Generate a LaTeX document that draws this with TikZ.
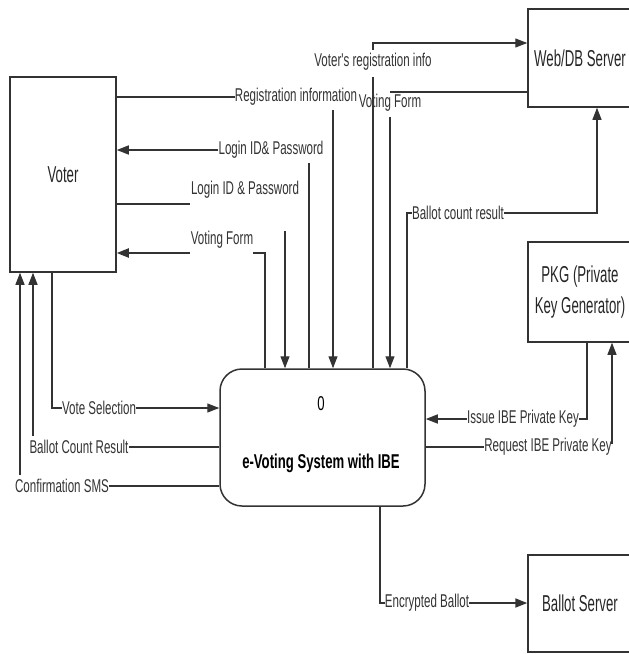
\documentclass[tikz,border=0pt]{standalone}
\usepackage{fontspec}
\setmainfont{Liberation Sans}
\newfontfamily\labfont{Liberation Sans}[FakeStretch=0.625]
\newfontfamily\boxfont{Liberation Sans}[FakeStretch=0.575]
\newfontfamily\procfont{Liberation Sans}[FakeStretch=0.657]
\usetikzlibrary{arrows.meta,calc}
\begin{document}
\begin{tikzpicture}[x=1pt,y=-1pt,
  conn/.style={draw=black!80, line width=1.2pt},
  arr/.style={conn, -{Triangle[length=12pt,width=9pt]}},
  entity/.style={draw=black!80, line width=1.5pt, inner sep=0pt,
    font=\boxfont\fontsize{23}{31}\selectfont, text=black!85, align=center},
  process/.style={draw=black!80, line width=1.5pt, rounded corners=22pt, inner sep=0pt},
  lab/.style={inner sep=0pt, font=\labfont\fontsize{18.5}{21}\selectfont, text=black!80},
  ptext/.style={inner sep=0pt, font=\procfont\fontsize{20}{24}\selectfont, text=black},
]
\clip (0,0) rectangle (629,654);

% entities
\node[entity, minimum width=106pt, minimum height=195pt] (voter) at (63,174.5) {Voter};
\node[entity, minimum width=104pt, minimum height=98pt] (webdb) at (580,58) {Web/DB Server};
\node[entity, minimum width=104pt, minimum height=100pt] (pkg) at (580,292) {PKG (Private\\Key Generator)};
\node[entity, minimum width=104pt, minimum height=97pt] (ballot) at (580,603.5) {Ballot Server};

% process
\node[process, minimum width=205pt, minimum height=137pt] (proc) at (322.5,437.5) {};
\node[ptext] (pnum) at (321,404) {0};
\node[ptext] (ptitle) at (321,463) {\bfseries e-Voting System with IBE};

% 1 Registration information
\node[lab] (l1) at (296,97) {Registration information};
\draw[conn] (voter.east |- l1) -- (l1.west);
\draw[arr] (333,110) -- (333,0 |- proc.north);

% 2 Login ID& Password (process -> voter)
\node[lab] (l2) at (271,150) {Login ID\& Password};
\draw[arr, line width=1.6pt] (l2.west) -- (voter.east |- l2);
\draw[conn] (309,0 |- proc.north) -- (309,163);

% 3 Login ID & Password (voter -> process)
\node[lab] (l3) at (245,190) {Login ID \& Password};
\draw[conn] (voter.east |- 0,204) -- (190,204);
\draw[arr] (285,231) -- (285,0 |- proc.north);

% 4 Voting Form (process -> voter)
\node[lab] (l4) at (222,240) {Voting Form};
\draw[arr, line width=2pt] (190,253) -- (voter.east |- 0,253);
\draw[conn] (253,253) -- (265,253) -- (265,0 |- proc.north);

% 6 Voting Form (web/db -> process)
\node[lab] (l6) at (390,103) {Voting Form};
\draw[conn] (webdb.west |- 0,92) -- (390,92);
\draw[arr] (390,117) -- (390,0 |- proc.north);

% 5 Voter's registration info
\node[lab] (l5) at (373,62) {Voter's registration info};
\draw[conn] (373,0 |- proc.north) -- (373,77);
\draw[arr] (373,50) -- (373,43) -- (webdb.west |- 0,43);

% 7 Ballot count result
\node[lab] (l7) at (458,213) {Ballot count result};
\draw[conn] (407,0 |- proc.north) -- (407,213) -- (l7.west);
\draw[arr] (l7.east) -- (597,213) -- (597,0 |- webdb.south);

% 8 Issue IBE Private Key
\node[lab] (l8) at (523,419) {Issue IBE Private Key};
\draw[conn] (587,0 |- pkg.south) -- (587,419) -- (l8.east);
\draw[arr, line width=1.6pt] (l8.west) -- (proc.east |- l8);

% 9 Request IBE Private Key
\node[lab] (l9) at (548,447) {Request IBE Private Key};
\draw[conn] (proc.east |- l9) -- (l9.west);
\draw[arr] (612,444) -- (612,0 |- pkg.south);

% 10 Vote Selection
\node[lab] (l10) at (99,408) {Vote Selection};
\draw[conn] (52,0 |- voter.south) -- (52,408) -- (l10.west);
\draw[arr] (l10.east) -- (proc.west |- l10);

% 11 Ballot Count Result
\node[lab] (l11) at (79,447) {Ballot Count Result};
\draw[conn] (proc.west |- l11) -- (l11.east);
\draw[arr] (33,436) -- (33,0 |- voter.south);

% 12 Confirmation SMS
\node[lab] (l12) at (62,486) {Confirmation SMS};
\draw[conn] (proc.west |- l12) -- (l12.east);
\draw[arr] (20,475) -- (20,0 |- voter.south);

% 13 Encrypted Ballot
\node[lab] (l13) at (427,603) {Encrypted Ballot};
\draw[conn] (380,0 |- proc.south) -- (380,603) -- (l13.west);
\draw[arr, line width=1.8pt] (l13.east) -- (ballot.west |- l13);
\end{tikzpicture}
\end{document}
